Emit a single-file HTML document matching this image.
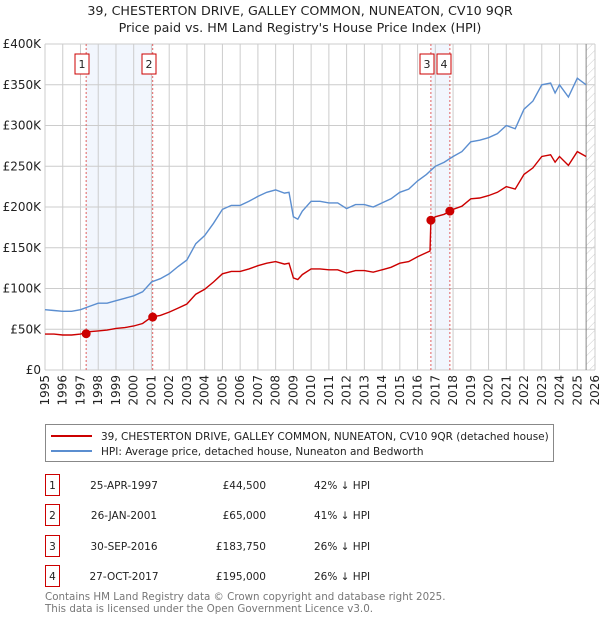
<!DOCTYPE html>
<html><head><meta charset="utf-8"><style>
body{margin:0;background:#fff;font-family:"DejaVu Sans","Liberation Sans",sans-serif;}
#wrap{position:relative;width:600px;height:620px;overflow:hidden}
</style></head><body><div id="wrap">
<svg id="chart" width="600" height="620" style="position:absolute;left:0;top:0;font-family:'DejaVu Sans','Liberation Sans',sans-serif"></svg>
</div>
<script>
const times=[1995,1995.5,1996,1996.5,1997,1997.5,1998,1998.5,1999,1999.5,2000,2000.5,2001,2001.5,2002,2002.5,2003,2003.5,2004,2004.5,2005,2005.5,2006,2006.5,2007,2007.5,2008,2008.5,2008.75,2009,2009.25,2009.5,2010,2010.5,2011,2011.5,2012,2012.5,2013,2013.5,2014,2014.5,2015,2015.5,2016,2016.5,2016.7,2016.75,2017,2017.5,2018,2018.5,2019,2019.5,2020,2020.5,2021,2021.5,2022,2022.5,2023,2023.5,2023.75,2024,2024.5,2025,2025.5];
const hpiValues=[74,73,72,72,74,78,82,82,85,88,91,96,108,112,118,127,135,155,165,180,197,202,202,207,213,218,221,217,218,188,185,195,207,207,205,205,198,203,203,200,205,210,218,222,232,240,244,245,250,255,262,268,280,282,285,290,300,296,320,330,350,352,340,350,335,358,350];
const propValues=[44,44,43,43,44,47,48,49,51,52,54,57,65,67,71,76,81,93,99,108,118,121,121,124,128,131,133,130,131,113,111,117,124,124,123,123,119,122,122,120,123,126,131,133,139,144,146,184,188,191,197,201,210,211,214,218,225,222,240,248,262,264,255,262,251,268,262];
const saleTimes=[1997.32,2001.07,2016.75,2017.82];
const saleValues=[44.5,65,183.75,195];
const saleLabels=["1","2","3","4"];
const yTicks=[0,50,100,150,200,250,300,350,400];
const yTickLabels=["£0","£50K","£100K","£150K","£200K","£250K","£300K","£350K","£400K"];
const xYears=[1995,1996,1997,1998,1999,2000,2001,2002,2003,2004,2005,2006,2007,2008,2009,2010,2011,2012,2013,2014,2015,2016,2017,2018,2019,2020,2021,2022,2023,2024,2025,2026];
const tableDates=["25-APR-1997","26-JAN-2001","30-SEP-2016","27-OCT-2017"];
const tablePrices=["£44,500","£65,000","£183,750","£195,000"];
const tableHpi=["42% ↓ HPI","41% ↓ HPI","26% ↓ HPI","26% ↓ HPI"];

const L=45,R=595,T=44,B=370;
const xs=t=>L+(t-1995)/(2026-1995)*(R-L);
const ys=v=>B-v/400*(B-T);
const svg=document.getElementById('chart');
const NS='http://www.w3.org/2000/svg';
function mk(tag,attrs,parent){const e=document.createElementNS(NS,tag);for(const k in attrs)e.setAttribute(k,attrs[k]);(parent||svg).appendChild(e);return e;}
function txt(s,attrs){const e=mk('text',attrs);e.textContent=s;return e;}

let t1=txt("39, CHESTERTON DRIVE, GALLEY COMMON, NUNEATON, CV10 9QR",{x:300,y:15,'text-anchor':'middle','font-size':12.7,fill:'#222'});

let t2=txt("Price paid vs. HM Land Registry's House Price Index (HPI)",{x:300,y:32,'text-anchor':'middle','font-size':12.7,fill:'#222'});


let s1=mk('rect',{x:xs(saleTimes[0]),y:T,width:xs(saleTimes[1])-xs(saleTimes[0]),height:B-T,fill:'#f2f6fd'});

let s2=mk('rect',{x:xs(saleTimes[2]),y:T,width:xs(saleTimes[3])-xs(saleTimes[2]),height:B-T,fill:'#f2f6fd'});


const defs=mk('defs',{});
const pat=mk('pattern',{id:'hatch',width:6,height:6,patternUnits:'userSpaceOnUse',patternTransform:'rotate(45)'},defs);
mk('line',{x1:0,y1:0,x2:0,y2:6,stroke:'#ccc','stroke-width':1},pat);
let hz=mk('rect',{x:xs(2025.5),y:T,width:R-xs(2025.5),height:B-T,fill:'url(#hatch)'});


xYears.forEach((yr,i)=>{
 const g=mk('line',{x1:xs(yr),x2:xs(yr),y1:T,y2:B,stroke:'#ccc','stroke-width':1});
 
 const lb=txt(String(yr),{transform:`translate(${xs(yr)+4},${B+5}) rotate(-90)`,'text-anchor':'end','font-size':12,fill:'#222'});
 
});
yTicks.forEach((v,i)=>{
 const g=mk('line',{x1:L,x2:R,y1:ys(v),y2:ys(v),stroke:'#ccc','stroke-width':1});
 
 const lb=txt(yTickLabels[i],{x:41,y:ys(v)+4,'text-anchor':'end','font-size':12,fill:'#222'});
 
});
let nl=mk('line',{x1:xs(2025.5),x2:xs(2025.5),y1:T,y2:B,stroke:'#888','stroke-width':1});


saleTimes.forEach((t,i)=>{
 const l=mk('line',{x1:xs(t),x2:xs(t),y1:T,y2:B,stroke:'#e06060','stroke-width':1,'stroke-dasharray':'2,2'});
 
});
const boxX=[75,142,420,437];
saleLabels.forEach((s,i)=>{
 const r=mk('rect',{x:boxX[i],y:54,width:14,height:20,fill:'#fff',stroke:'#c00','stroke-width':1});
 
 const tx=txt(s,{x:boxX[i]+7,y:68,'text-anchor':'middle','font-size':11,fill:'#222'});
 
});

const pts=a=>a.map((v,i)=>xs(times[i]).toFixed(1)+','+ys(v).toFixed(1)).join(' ');
let hp=mk('polyline',{points:pts(hpiValues),fill:'none',stroke:'#5b8ed0','stroke-width':1.4});

let pp=mk('polyline',{points:pts(propValues),fill:'none',stroke:'#cc0000','stroke-width':1.4});

saleTimes.forEach((t,i)=>{
 const c=mk('circle',{cx:xs(t),cy:ys(saleValues[i]),r:4.5,fill:'#cc0000'});
 
});

let lg=mk('rect',{x:45.5,y:424.5,width:508,height:37,fill:'#fff',stroke:'#888','stroke-width':1});

let l1=mk('line',{x1:51,x2:92,y1:436,y2:436,stroke:'#cc0000','stroke-width':2});

let lt1=txt("39, CHESTERTON DRIVE, GALLEY COMMON, NUNEATON, CV10 9QR (detached house)",{x:101,y:440,'font-size':10.5,fill:'#222'});

let l2=mk('line',{x1:51,x2:92,y1:451,y2:451,stroke:'#5b8ed0','stroke-width':2});

let lt2=txt("HPI: Average price, detached house, Nuneaton and Bedworth",{x:101,y:455,'font-size':10.5,fill:'#222'});


const rowY=[485,515,546,576];
rowY.forEach((y,i)=>{
 const r=mk('rect',{x:45.5,y:y-10.5,width:14,height:21,fill:'#fff',stroke:'#c00','stroke-width':1});
 
 const a=txt(saleLabels[i],{x:52.5,y:y+4,'text-anchor':'middle','font-size':10.5,fill:'#222'});
 
 const d=txt(tableDates[i],{x:124,y:y+4,'text-anchor':'middle','font-size':10.5,fill:'#222'});
 
 const p=txt(tablePrices[i],{x:266,y:y+4,'text-anchor':'end','font-size':10.5,fill:'#222'});
 
 const h=txt(tableHpi[i],{x:314,y:y+4,'font-size':10.5,fill:'#222'});
 
});
let f1=txt("Contains HM Land Registry data © Crown copyright and database right 2025.",{x:45,y:600,'font-size':10.3,fill:'#777'});

let f2=txt("This data is licensed under the Open Government Licence v3.0.",{x:45,y:612,'font-size':10.3,fill:'#777'});

</script></body></html>
